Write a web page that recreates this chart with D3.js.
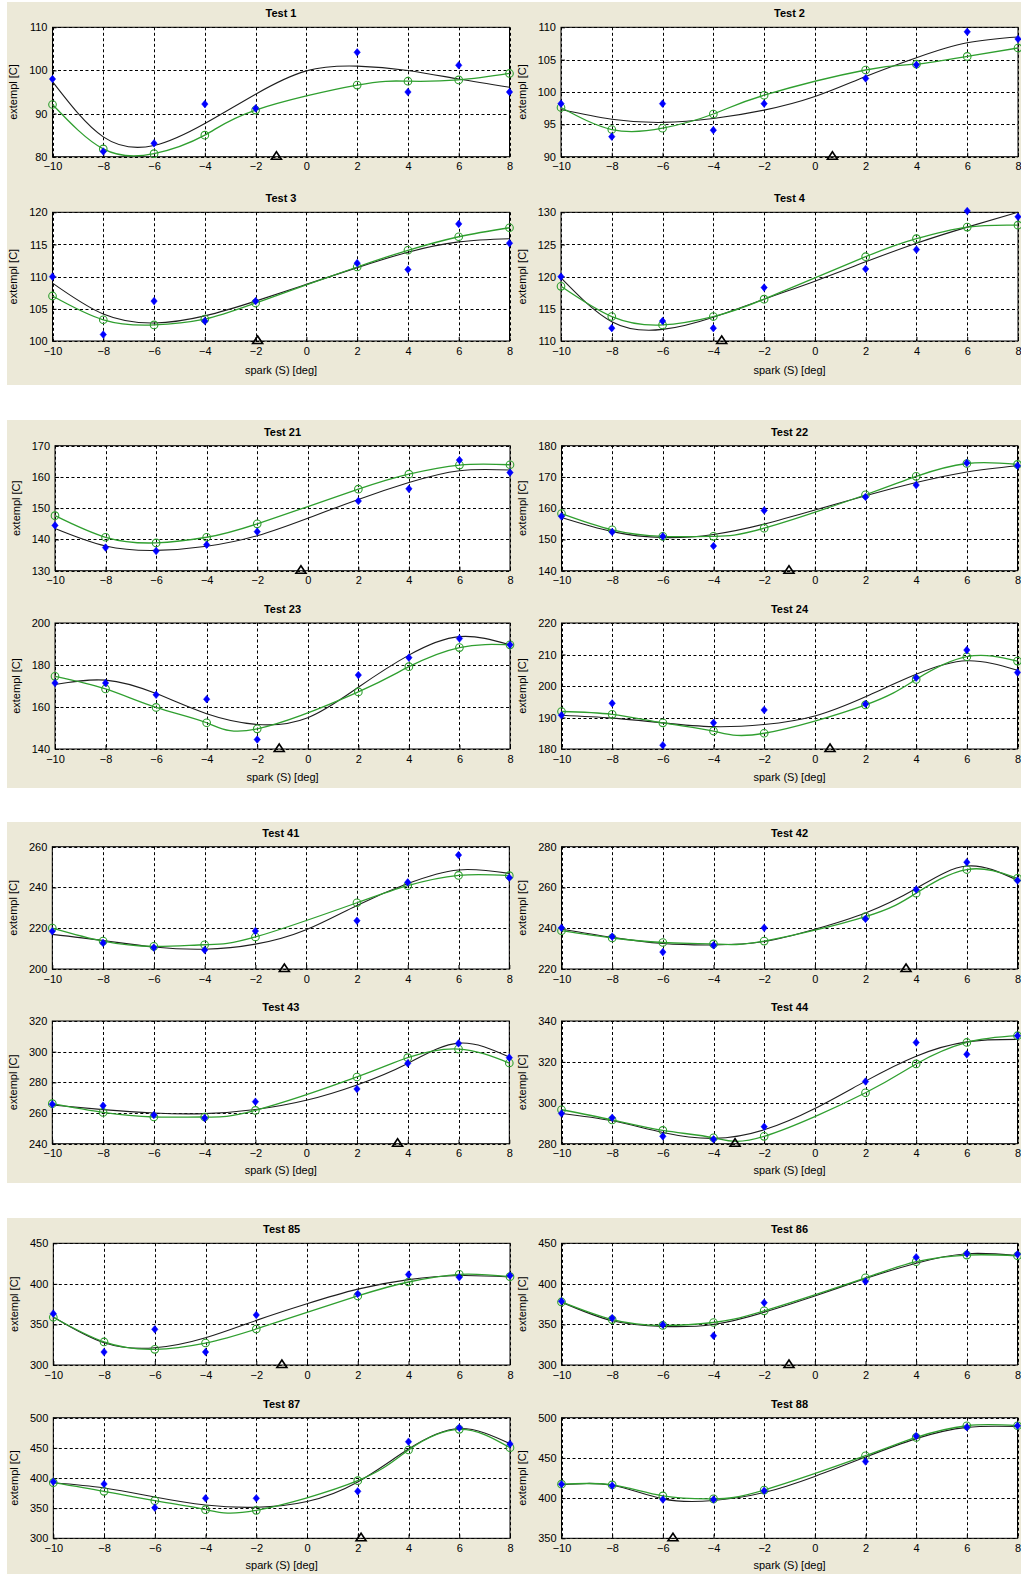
<!DOCTYPE html>
<html><head><meta charset="utf-8">
<script src="https://cdn.jsdelivr.net/npm/d3@7"></script>
<style>
body{margin:0;background:#fff}
svg{display:block}
text{font-family:Arial,"Liberation Sans",sans-serif;fill:#000}
</style>
</head><body>
<svg id="chart" width="1021" height="1574"></svg>
<script>
// spark sweep positions
const xTicks = [-10, -8, -6, -4, -2, 0, 2, 4, 6, 8];
const xMeasured = [-10, -8, -6, -4, -2, 2, 4, 6, 8];
const xFitted = [-10, -8, -6, -4, -2, 0, 2, 4, 6, 8];

const testNames = ["Test 1", "Test 2", "Test 3", "Test 4",
  "Test 21", "Test 22", "Test 23", "Test 24",
  "Test 41", "Test 42", "Test 43", "Test 44",
  "Test 85", "Test 86", "Test 87", "Test 88"];

const yDomains = [[80,110],[90,110],[100,120],[110,130],
  [130,170],[140,180],[140,200],[180,220],
  [200,260],[220,280],[240,320],[280,340],
  [300,450],[300,450],[300,500],[350,500]];
const yTickSteps = [10,5,5,5, 10,10,20,10, 20,20,20,20, 50,50,50,50];

// measured extempl (blue diamonds)
const measured = [
  [98, 81.2, 83.1, 92.2, 91.2, 104.2, 95, 101.2, 95],
  [98.2, 93.1, 98.2, 94.1, 98.2, 102.1, 104.2, 109.3, 108.2],
  [110, 101, 106.2, 103.1, 106.2, 112.1, 111.1, 118.2, 115.2],
  [120, 112, 113.1, 112, 118.3, 121.2, 124.2, 130.2, 129.3],
  [144.5, 137.4, 136.3, 138.3, 142.5, 152.3, 156.2, 165.4, 161.4],
  [157.4, 152.4, 151, 147.9, 159.3, 163.6, 167.4, 174.5, 173.6],
  [171.4, 171.4, 165.8, 163.7, 144.5, 175.2, 183.5, 192.6, 189.6],
  [190.7, 194.5, 181.2, 188.3, 192.4, 194.3, 202.6, 211.4, 204.3],
  [218.5, 212.8, 210.5, 209.3, 218.6, 223.7, 242.5, 255.9, 244.8],
  [240.2, 235.9, 228.3, 231.6, 240.2, 244.6, 259, 272.4, 263.4],
  [265.7, 264.8, 258.7, 256.7, 267.4, 275.7, 292.4, 305.4, 296.1],
  [294.8, 292.7, 283.6, 282.2, 288.3, 310.4, 329.5, 323.7, 332.8],
  [363.3, 316, 344, 316, 361.7, 387.5, 411.4, 408.1, 410.2],
  [378.6, 357.8, 349.7, 336.1, 376.8, 403, 432.8, 437.3, 436.4],
  [393.9, 390, 350.8, 366.3, 366.3, 377.9, 460.2, 483.4, 456.4],
  [417.3, 415.5, 398.2, 398.2, 409.1, 445.5, 477.3, 488.2, 490]
];

// model prediction (green circles and spline)
const predicted = [
  [92.1, 81.8, 80.7, 85, 90.8, 96.6, 97.5, 97.8, 99.3],
  [97.6, 94.2, 94.4, 96.6, 99.5, 103.4, 104.3, 105.5, 106.8],
  [107, 103.3, 102.5, 103.4, 105.9, 111.5, 114.1, 116.2, 117.6],
  [118.5, 113.8, 112.5, 113.8, 116.5, 123.1, 125.9, 127.7, 128],
  [147.6, 140.7, 138.9, 140.7, 145, 156.1, 160.9, 163.8, 163.9],
  [158.3, 153.1, 151, 151, 153.6, 164.3, 170.2, 174.3, 174],
  [174.6, 168.6, 159.8, 152.5, 149.6, 167.2, 179.2, 188.3, 189.6],
  [191.9, 191, 188.3, 185.7, 185, 194, 202.1, 209.3, 207.9],
  [220.1, 213.7, 211.1, 211.9, 215.7, 232.5, 240.9, 245.9, 245.8],
  [238.8, 235.2, 233, 232.3, 233.7, 245.7, 257.2, 268.8, 264.5],
  [266.1, 260.4, 257.4, 257.4, 261.7, 283.5, 296.1, 301.7, 292.6],
  [296.6, 291.6, 286.5, 282.9, 283.6, 304.9, 319, 329.5, 332.8],
  [358.8, 328.4, 319.3, 327.1, 344.4, 385.1, 402.3, 411.8, 408.9],
  [377.7, 356, 348.8, 352.4, 366.8, 407.5, 427.4, 435.5, 434.6],
  [392.3, 377.9, 362.4, 347.5, 346.4, 395.6, 446.4, 480.7, 450.3],
  [417.3, 416.4, 402.7, 399.1, 410, 452.7, 475.5, 490, 490]
];

// smoothed fit of the measurements (black curve)
const fitted = [
  [97.4, 84.6, 82.6, 87.7, 94.5, 99.9, 101, 100, 98, 96.1],
  [97.3, 95.8, 95.3, 95.9, 97.2, 99.3, 102.4, 105.3, 107.6, 108.5],
  [109, 104.2, 102.8, 103.9, 106.2, 108.8, 111.4, 113.8, 115.4, 115.9],
  [119.8, 113, 111.8, 113.7, 116.5, 119.3, 122.3, 125.2, 127.7, 130],
  [143.5, 137.9, 136.5, 137.8, 141.2, 146.8, 152.8, 158.2, 162, 162.2],
  [157, 152.5, 150.6, 151.6, 154.9, 159.4, 164, 168.2, 171.6, 173.6],
  [170.7, 172.8, 166.4, 156.8, 151.7, 154.9, 169.4, 184.7, 193.5, 189.6],
  [190.7, 189.8, 188.3, 187.1, 187.8, 190.5, 196.6, 203.7, 208, 205],
  [217, 214, 210.8, 209.7, 212.2, 219.3, 231.2, 241.9, 248.6, 246.9],
  [239.5, 235.5, 232.5, 231.8, 233.5, 239.5, 247.5, 259.5, 270.5, 263.5],
  [265.2, 262.2, 260, 259.6, 262.3, 268.3, 278.3, 292.3, 305.6, 296.5],
  [294.8, 291.2, 285.5, 282.6, 286.8, 297.2, 310.6, 322.8, 329.8, 331],
  [359.2, 327.5, 321.2, 333.5, 355, 375.5, 393.5, 405.2, 410.3, 408.5],
  [377.5, 354.5, 347.5, 350, 365, 385, 406.5, 425.5, 437.2, 435],
  [392, 383.5, 368.5, 355.2, 351.5, 361, 393.5, 448, 482, 457],
  [416.5, 416, 399, 397, 407, 427, 451, 474, 488, 489]
];

// spark position marked by the triangle on the x axis
const markerX = [-1.18, 0.69, -1.92, -3.67, -0.27, -1.02, -1.13, 0.6,
  -0.86, 3.6, 3.6, -3.15, -0.99, -1.02, 2.13, -5.6];

const xLabel = "spark (S) [deg]";
const yLabel = "extempl [C]";

// page layout: four framed groups of 2x2 panels
const blocks = [
  {top: 2, bottom: 385, rows: [[27.3, 156.7], [212.3, 341]], xlab: 370, cols: [[52.5, 509.5], [561, 1018]]},
  {top: 420, bottom: 788, rows: [[445.7, 570.7], [623, 749]], xlab: 777, cols: [[55, 510], [561.5, 1017.5]]},
  {top: 822, bottom: 1183, rows: [[846.7, 969], [1021, 1143.7]], xlab: 1170, cols: [[52.3, 509.3], [561.5, 1017.5]]},
  {top: 1218, bottom: 1574, rows: [[1243.3, 1365], [1417.7, 1538.3]], xlab: 1565, cols: [[53.3, 510], [561.5, 1017.5]]}
];

const BG = "#ece9d8";
const GREEN = "#2f9f2f";
const BLUE = "#0000ff";

const svg = d3.select("#chart");

blocks.forEach(b => {
  svg.append("rect").attr("x", 7).attr("y", b.top).attr("width", 1021 - 7)
    .attr("height", b.bottom - b.top).attr("fill", BG);
});

testNames.forEach((name, i) => {
  const b = blocks[Math.floor(i / 4)];
  const row = Math.floor((i % 4) / 2), col = i % 2;
  const [x0, x1] = b.cols[col];
  const [y0, y1] = b.rows[row];

  const x = d3.scaleLinear().domain([-10, 8]).range([x0, x1]);
  const y = d3.scaleLinear().domain(yDomains[i]).range([y1, y0]);
  const yTicks = d3.range(yDomains[i][0], yDomains[i][1] + 0.001, yTickSteps[i]);

  const g = svg.append("g");
  g.append("rect").attr("x", x0).attr("y", y0).attr("width", x1 - x0)
    .attr("height", y1 - y0).attr("fill", "#fff");

  // dotted grid
  const grid = g.append("g").attr("stroke", "#000").attr("stroke-width", 1)
    .attr("stroke-dasharray", "3,2.5");
  grid.selectAll("line.v").data(xTicks).join("line")
    .attr("x1", d => Math.round(x(d)) + 0.5).attr("x2", d => Math.round(x(d)) + 0.5)
    .attr("y1", y0).attr("y2", y1);
  grid.selectAll("line.h").data(yTicks).join("line")
    .attr("x1", x0).attr("x2", x1)
    .attr("y1", d => Math.round(y(d)) + 0.5).attr("y2", d => Math.round(y(d)) + 0.5);

  // axes
  const ax = g.append("g").attr("transform", `translate(0,${y1})`)
    .call(d3.axisBottom(x).tickValues(xTicks).tickSizeInner(-4).tickSizeOuter(0).tickPadding(6));
  const ay = g.append("g").attr("transform", `translate(${x0},0)`)
    .call(d3.axisLeft(y).tickValues(yTicks).tickSizeInner(-4).tickSizeOuter(0).tickPadding(5));
  [ax, ay].forEach(a => {
    a.select(".domain").remove();
    a.selectAll("text").attr("font-size", 11).attr("fill", "#000")
      .attr("font-family", "Arial, 'Liberation Sans', sans-serif");
    a.selectAll("line").attr("stroke", "#000");
  });

  g.append("rect").attr("x", x0).attr("y", y0).attr("width", x1 - x0)
    .attr("height", y1 - y0).attr("fill", "none").attr("stroke", "#000").attr("stroke-width", 1);

  const line = d3.line().curve(d3.curveNatural).x(d => x(d[0])).y(d => y(d[1]));

  const fitPts = xFitted.map((v, k) => [v, fitted[i][k]]);
  const predPts = xMeasured.map((v, k) => [v, predicted[i][k]]);
  const measPts = xMeasured.map((v, k) => [v, measured[i][k]]);

  g.append("path").attr("d", line(fitPts)).attr("fill", "none")
    .attr("stroke", "#1e1e1e").attr("stroke-width", 1.1);
  g.append("path").attr("d", line(predPts)).attr("fill", "none")
    .attr("stroke", GREEN).attr("stroke-width", 1.3);

  g.selectAll("circle.p").data(predPts).join("circle")
    .attr("cx", d => x(d[0])).attr("cy", d => y(d[1])).attr("r", 3.8)
    .attr("fill", "none").attr("stroke", GREEN).attr("stroke-width", 1.1);

  g.selectAll("path.m").data(measPts).join("path")
    .attr("d", d => {
      const cx = x(d[0]), cy = y(d[1]);
      return `M${cx},${cy - 3.8}L${cx + 3.2},${cy}L${cx},${cy + 3.8}L${cx - 3.2},${cy}Z`;
    })
    .attr("fill", BLUE).attr("stroke", BLUE).attr("stroke-width", 0.5);

  // triangle marker on the x axis
  const tx = x(markerX[i]);
  g.append("path").attr("d", `M${tx - 5},${y1 + 2.5}L${tx + 5},${y1 + 2.5}L${tx},${y1 - 5}Z`)
    .attr("fill", "none").attr("stroke", "#000").attr("stroke-width", 1.6)
    .attr("stroke-linejoin", "miter");

  // titles and labels
  g.append("text").attr("x", (x0 + x1) / 2).attr("y", y0 - 10)
    .attr("text-anchor", "middle").attr("font-size", 11).attr("font-weight", "bold").text(name);
  g.append("text").attr("transform", `translate(${x0 - 35.5},${(y0 + y1) / 2}) rotate(-90)`)
    .attr("text-anchor", "middle").attr("font-size", 11).text(yLabel);
  if (row === 1) {
    g.append("text").attr("x", (x0 + x1) / 2).attr("y", b.xlab + 4)
      .attr("text-anchor", "middle").attr("font-size", 11).text(xLabel);
  }
});
</script>
</body></html>
